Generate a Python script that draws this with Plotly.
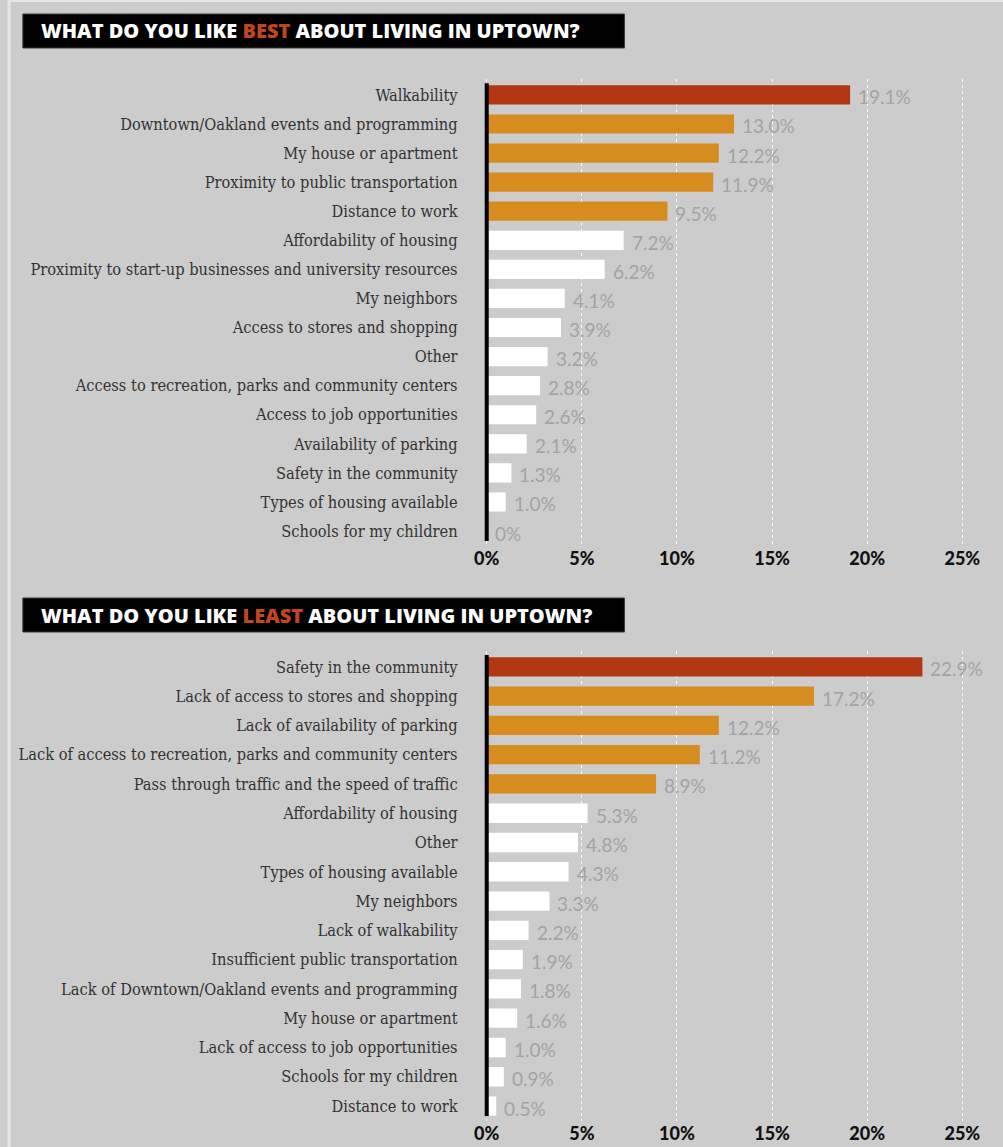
import plotly.graph_objects as go

best_labels = [
    "Walkability",
    "Downtown/Oakland events and programming",
    "My house or apartment",
    "Proximity to public transportation",
    "Distance to work",
    "Affordability of housing",
    "Proximity to start-up businesses and university resources",
    "My neighbors",
    "Access to stores and shopping",
    "Other",
    "Access to recreation, parks and community centers",
    "Access to job opportunities",
    "Availability of parking",
    "Safety in the community",
    "Types of housing available",
    "Schools for my children",
]
best_values = [19.1, 13.0, 12.2, 11.9, 9.5, 7.2, 6.2, 4.1, 3.9, 3.2, 2.8, 2.6, 2.1, 1.3, 1.0, 0]
best_text = ["19.1%", "13.0%", "12.2%", "11.9%", "9.5%", "7.2%", "6.2%", "4.1%", "3.9%", "3.2%",
             "2.8%", "2.6%", "2.1%", "1.3%", "1.0%", "0%"]

least_labels = [
    "Safety in the community",
    "Lack of access to stores and shopping",
    "Lack of availability of parking",
    "Lack of access to recreation, parks and community centers",
    "Pass through traffic and the speed of traffic",
    "Affordability of housing",
    "Other",
    "Types of housing available",
    "My neighbors",
    "Lack of walkability",
    "Insufficient public transportation",
    "Lack of Downtown/Oakland events and programming",
    "My house or apartment",
    "Lack of access to job opportunities",
    "Schools for my children",
    "Distance to work",
]
least_values = [22.9, 17.2, 12.2, 11.2, 8.9, 5.3, 4.8, 4.3, 3.3, 2.2, 1.9, 1.8, 1.6, 1.0, 0.9, 0.5]
least_text = ["22.9%", "17.2%", "12.2%", "11.2%", "8.9%", "5.3%", "4.8%", "4.3%", "3.3%", "2.2%",
              "1.9%", "1.8%", "1.6%", "1.0%", "0.9%", "0.5%"]

tick_vals = [0, 5, 10, 15, 20, 25]
tick_text = ["0%", "5%", "10%", "15%", "20%", "25%"]

W, H = 1003, 1147
RED = "#b23712"
ORANGE = "#d68c1e"
WHITE = "#ffffff"
BG = "#cccccc"
LABEL_FONT = "DejaVu Serif Condensed, DejaVu Serif, serif"
HEAVY = "Open Sans, Lato, sans-serif"


def colors_for(n):
    return [RED] + [ORANGE] * 4 + [WHITE] * (n - 5)


fig = go.Figure()

x_left_px, x_right_px = 478.2, 981.2
x_dom = [x_left_px / W, x_right_px / W]
top_dom = [1 - 545.6 / H, 1 - 79.4 / H]
bot_dom = [1 - 1120.7 / H, 1 - 651.3 / H]

fig.add_trace(go.Bar(x=best_values, y=best_labels, orientation="h",
                     marker=dict(color=colors_for(len(best_values)), line=dict(width=0)),
                     width=0.66, xaxis="x", yaxis="y", hoverinfo="skip"))
fig.add_trace(go.Bar(x=least_values, y=least_labels, orientation="h",
                     marker=dict(color=colors_for(len(least_values)), line=dict(width=0)),
                     width=0.66, xaxis="x2", yaxis="y2", hoverinfo="skip"))

xcommon = dict(range=[-0.2, 26], showgrid=True, gridcolor="rgba(255,255,255,0.85)",
               griddash="dot", gridwidth=1, zeroline=False, showline=False,
               tickvals=tick_vals, ticktext=tick_text, ticks="",
               tickfont=dict(family="Lato, sans-serif", size=18, color="#111111", weight=900),
               fixedrange=True)
ycommon = dict(autorange="reversed", showgrid=False, zeroline=False, showline=False,
               ticks="outside", ticklen=21, tickcolor="rgba(0,0,0,0)",
               tickfont=dict(family=LABEL_FONT, size=16.3, color="#333333"))

fig.update_layout(
    width=W, height=H, margin=dict(l=0, r=0, t=0, b=0),
    paper_bgcolor=BG, plot_bgcolor=BG, showlegend=False,
    xaxis=dict(domain=x_dom, anchor="y", **xcommon),
    yaxis=dict(domain=top_dom, anchor="x", **ycommon),
    xaxis2=dict(domain=x_dom, anchor="y2", **xcommon),
    yaxis2=dict(domain=bot_dom, anchor="x2", **ycommon),
)

annotations = []
for labels, values, texts, xr, yr in [
    (best_labels, best_values, best_text, "x", "y"),
    (least_labels, least_values, least_text, "x2", "y2"),
]:
    for lab, v, t in zip(labels, values, texts):
        annotations.append(dict(x=v, y=lab, xref=xr, yref=yr, text=t, showarrow=False,
                                xanchor="left", yanchor="middle", xshift=6, yshift=-2,
                                font=dict(family="Lato, Open Sans, sans-serif", size=19,
                                          color="#a3a3a3")))

shapes = []
for xr, yr in [("x", "y domain"), ("x2", "y2 domain")]:
    shapes.append(dict(type="line", xref=xr, yref=yr, x0=0, x1=0, y0=0.01, y1=0.992,
                       line=dict(color="#000000", width=4)))

for (ytop, ybot, word) in [(14, 48, "BEST"), (598, 632, "LEAST")]:
    shapes.append(dict(type="rect", xref="paper", yref="paper",
                       x0=14 / W, x1=621 / W, y0=1 - ybot / H, y1=1 - ytop / H,
                       fillcolor="#000000", line=dict(color="#3a3a3a", width=1), layer="above"))
    annotations.append(dict(
        x=30 / W, y=1 - (ytop + ybot) / 2 / H, xref="paper", yref="paper",
        xanchor="left", yanchor="middle", showarrow=False,
        text=f"WHAT DO YOU LIKE <span style='color:#c2461c'>{word}</span> ABOUT LIVING IN UPTOWN?",
        font=dict(family=HEAVY, size=20, color="#ffffff", weight=800)))

# light top and left edges
shapes.append(dict(type="line", xref="paper", yref="paper", x0=0, x1=1, y0=1, y1=1,
                   line=dict(color="#e6e6e6", width=4)))
shapes.append(dict(type="line", xref="paper", yref="paper", x0=0, x1=0, y0=0, y1=1,
                   line=dict(color="#e6e6e6", width=3)))

fig.update_layout(annotations=annotations, shapes=shapes)
fig.write_html("out.html")
